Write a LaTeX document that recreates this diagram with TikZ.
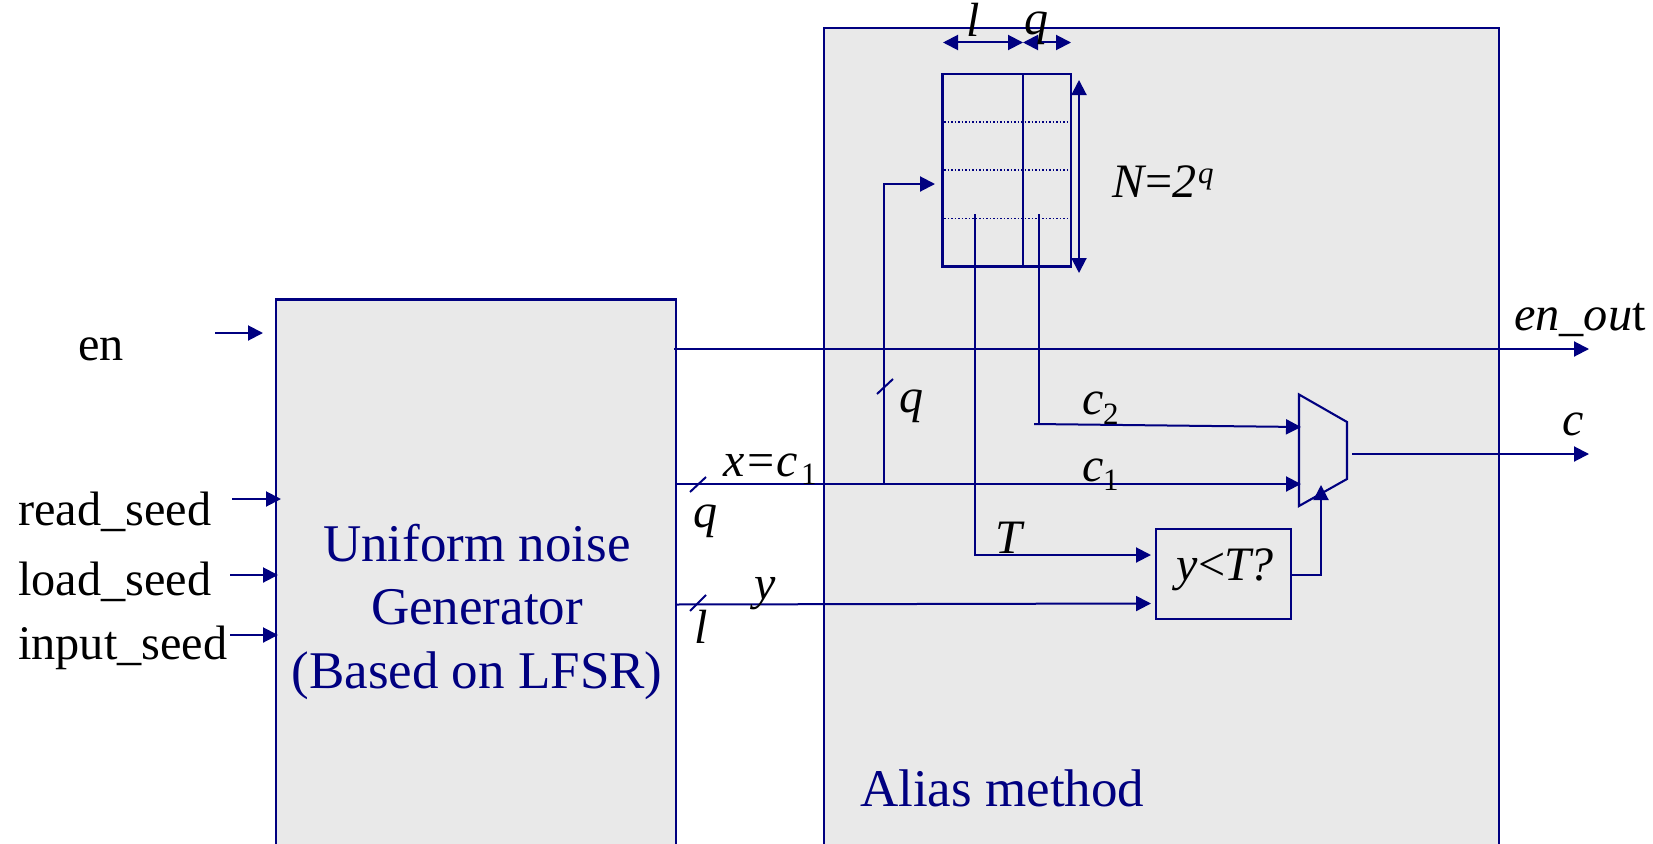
\documentclass[tikz,border=0pt]{standalone}
\usepackage{fontspec}
\setmainfont{Liberation Serif}
\usetikzlibrary{arrows.meta}
\definecolor{nv}{HTML}{000080}
\definecolor{pane}{HTML}{E9E9E9}
\tikzset{
  x=1pt,y=-1pt,
  panebox/.style={draw=nv,fill=pane,line width=2.2pt,rectangle,inner sep=0pt,outer sep=0pt,anchor=north west},
  plainbox/.style={draw=nv,line width=2.2pt,rectangle,inner sep=0pt,outer sep=0pt,anchor=north west},
  wire/.style={draw=nv,line width=2pt},
  awire/.style={wire,-{Triangle[length=15pt,width=15pt]}},
  dwire/.style={wire,{Triangle[length=15pt,width=15pt]}-{Triangle[length=15pt,width=15pt]}},
  dots/.style={draw=nv,line width=1.6pt,dash pattern=on 1.7pt off 1.8pt},
  lab/.style={inner sep=0pt,anchor=base west,text=black,font=\fontsize{48.3}{48}\selectfont},
  mlab/.style={lab,font=\fontsize{48}{48}\selectfont\itshape},
  sublab/.style={lab,font=\fontsize{31}{31}\selectfont},
  title/.style={inner sep=0pt,anchor=base,text=nv,font=\fontsize{53}{53}\selectfont},
}
\begin{document}
\begin{tikzpicture}
\useasboundingbox (0,0) rectangle (1653,843);
\clip (0,0) rectangle (1653,843);
\fill[white] (0,0) rectangle (1653,843);
% panes
\node[panebox,minimum width=400pt,minimum height=560pt] (gen) at (276,299.5) {};
\node[panebox,minimum width=675pt,minimum height=830pt] (alias) at (824,28) {};
% memory
\node[plainbox,minimum width=128.5pt,minimum height=192.5pt] (mem) at (942.5,74) {};
\coordinate (memdiv) at (1023,74);
\coordinate (memdivb) at (1023,266.5);
\draw[wire] (memdiv) -- (memdivb);
\foreach \yy in {122,170,218.5}{\draw[dots] (944,\yy) -- (1070,\yy);}
% compare box
\node[plainbox,minimum width=135pt,minimum height=90pt] (cmp) at (1156,529) {};
\node[mlab,anchor=base] (cmptxt) at (1225,580) {y\kern-3pt<\kern-3pt T\kern-2pt?};
% mux
\coordinate (m1) at (1299,394.5);
\coordinate (m2) at (1347,422);
\coordinate (m3) at (1347,479);
\coordinate (m4) at (1299,506);
\draw[wire,line width=2.1pt,line join=miter] (m1) -- (m2) -- (m3) -- (m4) -- cycle;
% free ends
\coordinate (enA) at (215,333); \coordinate (enB) at (263,333);
\coordinate (rsA) at (232,499); \coordinate (rsB) at (281,499);
\coordinate (lsA) at (230,575); \coordinate (lsB) at (278,575);
\coordinate (isA) at (230,635); \coordinate (isB) at (278,635);
\coordinate (eoA) at (674,349); \coordinate (eoB) at (1589,349);
\coordinate (oA) at (1352,454); \coordinate (oB) at (1589,454);
\coordinate (xA) at (675,484); \coordinate (xB) at (1301,484);
\coordinate (yA) at (675,604.5); \coordinate (yB) at (1151,603.5);
\coordinate (qJ) at (884,484); \coordinate (qT) at (884,184); \coordinate (qE) at (935,184);
\coordinate (tA) at (975,214); \coordinate (tJ) at (975,555); \coordinate (tE) at (1151,555);
\coordinate (cA) at (1039,214); \coordinate (cJ) at (1039,424);
\coordinate (c2A) at (1034,424); \coordinate (c2E) at (1301,427);
\coordinate (cmpO) at (1292,575); \coordinate (cmpC) at (1321,575); \coordinate (cmpE) at (1321,485);
\coordinate (lA) at (943,42.5); \coordinate (lB) at (1023,42.5); \coordinate (qB) at (1071,42.5);
\coordinate (nA) at (1079,80); \coordinate (nB) at (1079,273);
% inputs
\draw[awire] (enA) -- (enB);
\draw[awire] (rsA) -- (rsB);
\draw[awire] (lsA) -- (lsB);
\draw[awire] (isA) -- (isB);
% main wires
\draw[awire] (eoA) -- (eoB);
\draw[awire] (oA) -- (oB);
\draw[awire] (xA) -- (xB);
\draw[awire] (yA) -- (yB);
\draw[awire] (qJ) -- (qT) -- (qE);
\draw[awire] (tA) -- (tJ) -- (tE);
\draw[wire] (cA) -- (cJ);
\draw[awire] (c2A) -- (c2E);
\draw[awire] (cmpO) -- (cmpC) -- (cmpE);
% dimension arrows
\draw[dwire] (lA) -- (lB);
\draw[dwire] (lB) -- (qB);
\draw[dwire] (nA) -- (nB);
% ticks
\coordinate (t1a) at (877,394); \coordinate (t1b) at (893,379);
\coordinate (t2a) at (690,492); \coordinate (t2b) at (706,477);
\coordinate (t3a) at (690,611); \coordinate (t3b) at (706,595);
\draw[wire] (t1a) -- (t1b);
\draw[wire] (t2a) -- (t2b);
\draw[wire] (t3a) -- (t3b);
% labels
\node[lab] (en) at (78,360) {en};
\node[lab] (rs) at (18,525) {read\_seed};
\node[lab] (ls) at (18,595) {load\_seed};
\node[lab] (is) at (18,659) {input\_seed};
\node[title] (g1) at (477,561) {Uniform noise};
\node[title] (g2) at (477,624) {Generator};
\node[title] (g3) at (477,688) {(Based on LFSR)};
\node[title,anchor=base west] (am) at (860,806) {Alias method};
\node[mlab] (l1) at (966,37) {l};
\node[mlab] (q1) at (1024,35) {q};
\node[mlab] (N) at (1112,197) {N\kern-2pt=\kern-2pt 2};
\node[mlab,font=\fontsize{31}{31}\selectfont\itshape] (Ns) at (1198,183) {q};
\node[lab] (eo) at (1514,330) {\textit{en\_ou}t};
\node[mlab] (c) at (1562,435) {c};
\node[mlab] (c2l) at (1082,414) {c};
\node[sublab] (c2s) at (1103,424) {2};
\node[mlab] (c1l) at (1082,481) {c};
\node[sublab] (c1s) at (1103,490) {1};
\node[mlab] (ql) at (899,412) {q};
\node[mlab] (xl) at (723,476) {x=c};
\node[sublab] (xs) at (801,484) {1};
\node[mlab] (q2) at (693,527) {q};
\node[mlab] (yl) at (754,599) {y};
\node[mlab] (l2) at (694,643) {l};
\node[mlab] (Tl) at (995,553) {T};
\end{tikzpicture}
\end{document}
